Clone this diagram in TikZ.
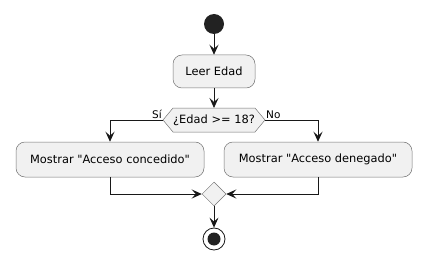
\documentclass[tikz,border=0pt]{standalone}
\usepackage{fontspec}
\setmainfont{DejaVu Sans}[Ligatures=TeXOff]
\usetikzlibrary{arrows.meta, shapes.geometric}

\definecolor{actfill}{HTML}{F1F1F1}
\definecolor{actline}{HTML}{181818}
\definecolor{actdot}{HTML}{222222}

\tikzset{
  act/.style={draw=black!55, line width=0.5pt, fill=actfill, rounded corners=9pt,
    inner sep=0pt, font=\fontsize{11.4}{14}\selectfont},
  flow/.style={draw=actline, line width=0.8pt,
    -{Stealth[length=10pt, width=9pt, inset=4pt]}},
  lbl/.style={font=\fontsize{10.5}{13}\selectfont, inner sep=1pt}
}

\begin{document}
\begin{tikzpicture}[x=1pt, y=-1pt]
  \useasboundingbox (0,0) rectangle (430,267);
  % start and stop
  \node[circle, fill=actdot, minimum size=20pt, inner sep=0pt] (start) at (214,24) {};
  \node[circle, draw=actline, line width=0.8pt, fill=white, minimum size=22pt, inner sep=0pt] (stop) at (214,239) {};
  \fill[actdot] (stop.center) circle (6.5pt);
  % activities
  \node[act, minimum width=82pt, minimum height=33pt] (leer) at (214,71.5) {Leer Edad};
  \node[act, minimum width=188pt, minimum height=35pt] (si) at (110,159.5) {Mostrar "Acceso concedido"};
  \node[act, minimum width=188pt, minimum height=35pt] (no) at (318,159.5) {Mostrar "Acceso denegado"};
  % decision
  \coordinate (decl) at (163,120);
  \coordinate (decr) at (265,120);
  \coordinate (dect) at (214,108);
  \filldraw[fill=actfill, draw=black!55, line width=0.5pt]
    (decl) -- (173,108) -- (255,108) -- (decr) -- (255,132) -- (173,132) -- cycle;
  \node[font=\fontsize{11.4}{14}\selectfont, inner sep=0pt] (cond) at (214,120) {¿Edad >= 18?};
  % merge
  \node[diamond, draw=black!55, line width=0.5pt, fill=actfill, minimum width=24pt,
    minimum height=24pt, inner sep=0pt] (merge) at (214,194) {};
  % connectors
  \draw[flow] (start) -- (leer);
  \draw[flow] (leer.south) -- (dect);
  \draw[flow] (decl) -| (si.north);
  \draw[flow] (decr) -| (no.north);
  \draw[flow] (si.south) |- (merge.west);
  \draw[flow] (no.south) |- (merge.east);
  \draw[flow] (merge.south) -- (stop.north);
  \node[lbl, anchor=south east] at (decl) {Sí};
  \node[lbl, anchor=south west] at (decr) {No};
\end{tikzpicture}
\end{document}
